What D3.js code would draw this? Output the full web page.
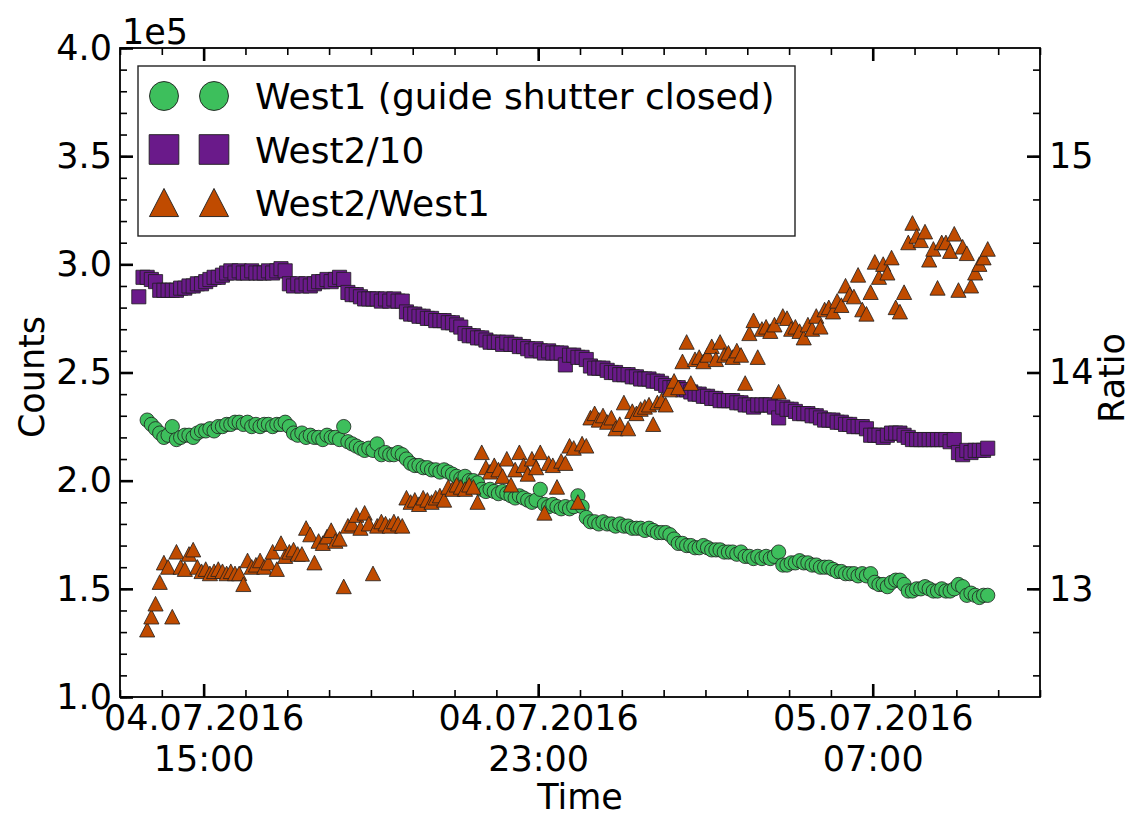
<!DOCTYPE html>
<html>
<head>
<meta charset="utf-8">
<script src="https://cdn.jsdelivr.net/npm/d3@7"></script>
<style>
  body { margin: 0; background: #fff; }
  svg { display: block; font-family: "DejaVu Sans", sans-serif; }
</style>
</head>
<body>
<div class="d3-wrapper"></div>
<script>
// Sample times, minutes after 04.07.2016 13:00
const minutes = [
  27, 33, 39, 45, 51, 57, 63, 69, 75, 81,
  87, 93, 99, 105, 111, 117, 123, 129, 135, 141,
  147, 153, 159, 165, 171, 177, 183, 189, 195, 201,
  207, 213, 219, 225, 231, 237, 243, 249, 255, 261,
  267, 273, 279, 285, 291, 297, 303, 309, 315, 321,
  327, 333, 339, 345, 351, 357, 363, 369, 375, 381,
  387, 393, 399, 405, 411, 417, 423, 429, 435, 441,
  447, 453, 459, 465, 471, 477, 483, 489, 495, 501,
  507, 513, 519, 525, 531, 537, 543, 549, 555, 561,
  567, 573, 579, 585, 591, 597, 603, 609, 615, 621,
  627, 633, 639, 645, 651, 657, 663, 669, 675, 681,
  687, 693, 699, 705, 711, 717, 723, 729, 735, 741,
  747, 753, 759, 765, 771, 777, 783, 789, 795, 801,
  807, 813, 819, 825, 831, 837, 843, 849, 855, 861,
  867, 873, 879, 885, 891, 897, 903, 909, 915, 921,
  927, 933, 939, 945, 951, 957, 963, 969, 975, 981,
  987, 993, 999, 1005, 1011, 1017, 1023, 1029, 1035, 1041,
  1047, 1053, 1059, 1065, 1071, 1077, 1083, 1089, 1095, 1101,
  1107, 1113, 1119, 1125, 1131, 1137, 1143, 1149, 1155, 1161,
  1167, 1173, 1179, 1185, 1191, 1197, 1203, 1209, 1215, 1221,
  1227, 1233, 1239, 1245
];

// West1 counts (guide shutter closed), in units of 1e5
const west1 = [
  null, null, 2.28, 2.26, 2.24, 2.22, 2.20, 2.21, 2.25, 2.19,
  2.20, 2.21, 2.21, 2.20, 2.22, 2.23, 2.23, 2.24, 2.23, 2.25,
  2.25, 2.26, 2.26, 2.27, 2.27, 2.26, 2.27, 2.25, 2.26, 2.25,
  2.26, 2.26, 2.25, 2.26, 2.26, 2.27, 2.25, 2.22, 2.21, 2.22,
  2.20, 2.21, 2.20, 2.20, 2.19, 2.21, 2.20, 2.20, 2.19, 2.25,
  2.18, 2.17, 2.16, 2.15, 2.14, 2.15, 2.14, 2.17, 2.12, 2.13,
  2.12, 2.12, 2.13, 2.12, 2.10, 2.08, 2.07, 2.07, 2.06, 2.06,
  2.05, 2.05, 2.04, 2.05, 2.04, 2.03, 2.02, 2.01, 2.02, 2.00,
  2.00, 1.99, 1.96, 1.95, 1.96, 1.95, 1.94, 1.95, 1.94, 1.93,
  1.92, 1.93, 1.92, 1.91, 1.90, 1.91, 1.96, 1.89, 1.88, 1.89,
  1.88, 1.87, 1.88, 1.87, 1.88, 1.93, 1.88, 1.83, 1.81, 1.81,
  1.80, 1.81, 1.80, 1.80, 1.79, 1.80, 1.79, 1.79, 1.78, 1.78,
  1.78, 1.77, 1.78, 1.77, 1.76, 1.76, 1.76, 1.75, 1.73, 1.71,
  1.71, 1.70, 1.70, 1.69, 1.69, 1.70, 1.69, 1.68, 1.68, 1.68,
  1.67, 1.67, 1.67, 1.66, 1.67, 1.65, 1.65, 1.64, 1.65, 1.64,
  1.65, 1.64, 1.65, 1.67, 1.61, 1.61, 1.62, 1.62, 1.63, 1.62,
  1.62, 1.61, 1.61, 1.60, 1.60, 1.60, 1.59, 1.58, 1.58, 1.57,
  1.57, 1.57, 1.56, 1.57, 1.56, 1.57, 1.53, 1.52, 1.52, 1.51,
  1.53, 1.54, 1.54, 1.52, 1.49, 1.49, 1.50, 1.50, 1.51, 1.50,
  1.49, 1.49, 1.50, 1.49, 1.49, 1.50, 1.52, 1.51, 1.47, 1.48,
  1.47, 1.46, 1.47, 1.47
];

// West2 counts divided by 10, in units of 1e5
const west2div10 = [
  2.85, 2.94, 2.94, 2.93, 2.92, 2.88, 2.88, 2.88, 2.88, 2.88,
  2.89, 2.89, 2.90, 2.90, 2.91, 2.91, 2.92, 2.93, 2.94, 2.94,
  2.95, 2.96, 2.97, 2.96, 2.97, 2.96, 2.96, 2.97, 2.96, 2.96,
  2.96, 2.97, 2.96, 2.97, 2.98, 2.97, 2.91, 2.90, 2.91, 2.90,
  2.91, 2.90, 2.91, 2.92, 2.92, 2.93, 2.92, 2.93, 2.94, 2.93,
  2.87, 2.86, 2.86, 2.85, 2.84, 2.84, 2.84, 2.84, 2.83, 2.84,
  2.83, 2.84, 2.83, 2.83, 2.78, 2.77, 2.77, 2.76, 2.76, 2.75,
  2.75, 2.74, 2.74, 2.74, 2.73, 2.73, 2.72, 2.71, 2.68, 2.67,
  2.67, 2.66, 2.66, 2.65, 2.64, 2.64, 2.64, 2.63, 2.64, 2.63,
  2.63, 2.62, 2.62, 2.61, 2.60, 2.61, 2.60, 2.59, 2.60, 2.59,
  2.59, 2.59, 2.535, 2.58, 2.58, 2.57, 2.57, 2.56, 2.53, 2.52,
  2.52, 2.52, 2.51, 2.50, 2.50, 2.49, 2.49, 2.49, 2.48, 2.48,
  2.47, 2.47, 2.47, 2.46, 2.46, 2.45, 2.44, 2.43, 2.43, 2.43,
  2.42, 2.42, 2.41, 2.40, 2.40, 2.39, 2.39, 2.38, 2.38, 2.37,
  2.37, 2.37, 2.37, 2.36, 2.36, 2.35, 2.35, 2.34, 2.35, 2.35,
  2.35, 2.35, 2.34, 2.29, 2.34, 2.33, 2.33, 2.32, 2.31, 2.31,
  2.31, 2.30, 2.30, 2.29, 2.28, 2.28, 2.28, 2.27, 2.27, 2.26,
  2.26, 2.25, 2.25, 2.25, 2.24, 2.21, 2.21, 2.21, 2.20, 2.21,
  2.22, 2.22, 2.22, 2.21, 2.20, 2.19, 2.19, 2.19, 2.19, 2.19,
  2.19, 2.19, 2.19, 2.19, 2.18, 2.19, 2.13, 2.12, 2.14, 2.13,
  2.14, 2.14, 2.14, 2.15
];

// West2/West1 ratio (right axis)
const ratio = [
  null, null, 12.81, 12.87, 12.93, 13.03, 13.12, 13.10, 12.87, 13.17,
  13.10, 13.09, 13.16, 13.18, 13.10, 13.08, 13.09, 13.07, 13.08, 13.09,
  13.08, 13.07, 13.08, 13.07, 13.07, 13.02, 13.13, 13.10, 13.11, 13.13,
  13.10, 13.12, 13.17, 13.09, 13.21, 13.15, 13.17, 13.18, 13.16, 13.16,
  13.28, 13.25, 13.12, 13.22, 13.21, 13.24, 13.27, 13.22, 13.23, 13.01,
  13.29, 13.30, 13.34, 13.28, 13.35, 13.30, 13.07, 13.29, 13.31, 13.30,
  13.29, 13.31, 13.30, 13.29, 13.42, 13.40, 13.41, 13.39, 13.42, 13.41,
  13.40, 13.42, 13.43, 13.41, 13.47, 13.46, 13.48, 13.47, 13.46, 13.48,
  13.47, 13.40, 13.63, 13.56, 13.54, 13.57, 13.55, 13.52, 13.60, 13.48,
  13.55, 13.63, 13.57, 13.53, 13.60, 13.56, 13.63, 13.35, 13.58, 13.57,
  13.47, 13.59, 13.58, 13.66, 13.65, 13.40, 13.67, 13.66, 13.79, 13.81,
  13.78, 13.80, 13.77, 13.79, 13.74, 13.76, 13.86, 13.74, 13.82, 13.81,
  13.83, 13.84, 13.85, 13.76, 13.86, 13.87, 13.85, 13.92, 13.96, 13.93,
  14.05, 14.14, 13.95, 14.06, 14.07, 14.05, 14.08, 14.12, 14.06, 14.14,
  14.08, 14.09, 14.07, 14.10, 14.08, 13.95, 14.18, 14.24, 14.07, 14.20,
  14.21, 14.19, 14.22, 13.91, 14.26, 14.25, 14.20, 14.21, 14.19, 14.16,
  14.22, 14.20, 14.26, 14.21, 14.29, 14.30, 14.28, 14.33, 14.31, 14.40,
  14.36, 14.35, 14.45, 14.29, 14.27, 14.37, 14.51, 14.44, 14.50, 14.46,
  14.53, 14.30, 14.28, 14.37, 14.60, 14.69, 14.63, 14.61, 14.65, 14.52,
  14.57, 14.39, 14.60, 14.60, 14.56, 14.64, 14.38, 14.58, 14.55, 14.40,
  14.46, 14.50, 14.53, 14.57
];

const seriesNames = ['West1 (guide shutter closed)', 'West2/10', 'West2/West1'];
const START = new Date(2016, 6, 4, 13, 0);
const END = new Date(2016, 6, 5, 11, 0);
const xMajorTicks = [new Date(2016, 6, 4, 15), new Date(2016, 6, 4, 23), new Date(2016, 6, 5, 7)];

const WIDTH = 1133, HEIGHT = 818;
const PLOT = { left: 120, top: 48, right: 1040, bottom: 697 };
const FONT = 35;

// matplotlib-like triangle ('^'), bounding box centred
const triangle = {
  draw(ctx, size) {
    const h = Math.sqrt(size) / 2;
    ctx.moveTo(0, -h);
    ctx.lineTo(h, h * 0.93);
    ctx.lineTo(-h, h * 0.93);
    ctx.closePath();
  }
};

const STYLES = [
  { type: d3.symbolCircle, size: 160, legendSize: 660, fill: '#3dbf5c' },
  { type: d3.symbolSquare, size: 200, legendSize: 880, fill: '#6a1a8a' },
  { type: triangle, size: 230, legendSize: 850, fill: '#c04b00' }
];

const times = minutes.map(m => d3.timeMinute.offset(START, m));

const xScale = d3.scaleTime().domain([START, END]).range([PLOT.left, PLOT.right]);
const yLeft = d3.scaleLinear().domain([1.0, 4.0]).range([PLOT.bottom, PLOT.top]);
const yRight = d3.scaleLinear().domain([12.5, 15.5]).range([PLOT.bottom, PLOT.top]);

const svg = d3.select('.d3-wrapper').append('svg')
  .attr('width', WIDTH)
  .attr('height', HEIGHT);

// markers
const layers = [
  { values: west1, y: yLeft, style: STYLES[0] },
  { values: west2div10, y: yLeft, style: STYLES[1] },
  { values: ratio, y: yRight, style: STYLES[2] }
];

const plotArea = svg.append('g').attr('class', 'marks');
layers.forEach((layer) => {
  const pts = times.map((t, i) => ({ t, v: layer.values[i] })).filter(d => d.v != null);
  const sym = d3.symbol().type(layer.style.type).size(layer.style.size);
  plotArea.append('g')
    .selectAll('path')
    .data(pts)
    .enter()
    .append('path')
    .attr('transform', d => `translate(${xScale(d.t)},${layer.y(d.v)})`)
    .attr('d', sym)
    .style('fill', layer.style.fill)
    .style('stroke', '#1e1e1e')
    .style('stroke-width', 0.8);
});

// axes: ticks point inward, no domain line (frame drawn separately)
const styleAxis = (g, major) => {
  g.select('.domain').remove();
  g.selectAll('.tick line').style('stroke', '#000').style('stroke-width', major ? 2.6 : 1.6);
  g.selectAll('text').style('font-size', FONT + 'px').style('fill', '#000')
    .style('font-family', '"DejaVu Sans", sans-serif');
};

// left
svg.append('g')
  .attr('transform', `translate(${PLOT.left},0)`)
  .call(d3.axisLeft(yLeft).tickValues(yLeft.ticks(30)).tickSize(-7).tickFormat(''))
  .call(g => styleAxis(g, false));
svg.append('g')
  .attr('transform', `translate(${PLOT.left},0)`)
  .call(d3.axisLeft(yLeft).ticks(6).tickSize(-13).tickPadding(8).tickFormat(d3.format('.1f')))
  .call(g => styleAxis(g, true));

// right
svg.append('g')
  .attr('transform', `translate(${PLOT.right},0)`)
  .call(d3.axisRight(yRight).tickValues(yRight.ticks(15)).tickSize(-7).tickFormat(''))
  .call(g => styleAxis(g, false));
svg.append('g')
  .attr('transform', `translate(${PLOT.right},0)`)
  .call(d3.axisRight(yRight).tickValues(yRight.ticks(3)).tickSize(-13).tickPadding(9).tickFormat(d3.format('d')))
  .call(g => styleAxis(g, true));

// bottom + top
const hourTicks = xScale.ticks(d3.timeHour.every(1));
[PLOT.bottom, PLOT.top].forEach((yPos) => {
  const axisFn = yPos === PLOT.bottom ? d3.axisBottom : d3.axisTop;
  svg.append('g')
    .attr('transform', `translate(0,${yPos})`)
    .call(axisFn(xScale).tickValues(hourTicks).tickSize(-7).tickFormat(''))
    .call(g => styleAxis(g, false));
  svg.append('g')
    .attr('class', yPos === PLOT.bottom ? 'x-major' : null)
    .attr('transform', `translate(0,${yPos})`)
    .call(axisFn(xScale).tickValues(xMajorTicks).tickSize(-13).tickPadding(8).tickFormat(''))
    .call(g => styleAxis(g, true));
});

const fmtDate = d3.timeFormat('%d.%m.%Y');
const fmtHour = d3.timeFormat('%H:%M');
svg.select('.x-major').selectAll('.tick text')
  .each(function (d) {
    const t = d3.select(this).text(null);
    t.append('tspan').attr('x', 0).attr('dy', '0.71em').text(fmtDate(d));
    t.append('tspan').attr('x', 0).attr('dy', '1.17em').text(fmtHour(d));
  });

// frame
svg.append('rect')
  .attr('x', PLOT.left)
  .attr('y', PLOT.top)
  .attr('width', PLOT.right - PLOT.left)
  .attr('height', PLOT.bottom - PLOT.top)
  .style('fill', 'none')
  .style('stroke', '#000')
  .style('stroke-width', 1.8);

// offset text
svg.append('text')
  .attr('x', 122)
  .attr('y', 44)
  .style('font-size', FONT + 'px')
  .text('1e5');

// axis titles
svg.append('text')
  .attr('x', (PLOT.left + PLOT.right) / 2)
  .attr('y', 809)
  .attr('text-anchor', 'middle')
  .style('font-size', FONT + 'px')
  .text('Time');

svg.append('text')
  .attr('transform', 'rotate(-90)')
  .attr('x', -377)
  .attr('y', 44)
  .attr('text-anchor', 'middle')
  .style('font-size', FONT + 'px')
  .text('Counts');

svg.append('text')
  .attr('transform', 'rotate(-90)')
  .attr('x', -378)
  .attr('y', 1124)
  .attr('text-anchor', 'middle')
  .style('font-size', FONT + 'px')
  .text('Ratio');

// legend
const legend = svg.append('g').attr('transform', 'translate(138,66)');
legend.append('rect')
  .attr('width', 657)
  .attr('height', 170)
  .style('fill', '#fff')
  .style('stroke', '#222')
  .style('stroke-width', 1.4);

seriesNames.forEach((name, i) => {
  const row = legend.append('g').attr('transform', `translate(0,${30 + i * 53.5})`);
  const sym = d3.symbol().type(STYLES[i].type).size(STYLES[i].legendSize);
  [26, 76].forEach((mx) => {
    row.append('path')
      .attr('transform', `translate(${mx},0)`)
      .attr('d', sym)
      .style('fill', STYLES[i].fill)
      .style('stroke', '#1e1e1e')
      .style('stroke-width', 0.9);
  });
  row.append('text')
    .attr('x', 117)
    .attr('y', 13)
    .style('font-size', '36px')
    .text(name);
});
</script>
</body>
</html>
